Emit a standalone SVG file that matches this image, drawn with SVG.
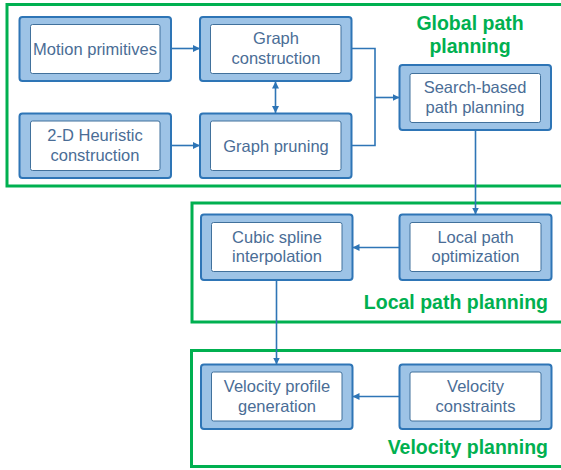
<svg xmlns="http://www.w3.org/2000/svg" width="561" height="470" viewBox="0 0 561 470">
<style>
.grp{fill:none;stroke:#00B050;stroke-width:3}
.ob{fill:#9DC3E6;stroke:#2E75B6;stroke-width:2}
.ib{fill:#fff;stroke:#41719C;stroke-width:1}
.t{font-family:"Liberation Sans",Arial,sans-serif;font-size:16.5px;fill:#4A6D96;text-anchor:middle}
.gl{font-family:"Liberation Sans",Arial,sans-serif;font-size:19.5px;font-weight:bold;fill:#00B050}
.c{fill:none;stroke:#2E75B6;stroke-width:1.6}
</style>
<defs>
<marker id="ah" viewBox="0 0 10 10" refX="10" refY="5" markerWidth="7" markerHeight="7" markerUnits="userSpaceOnUse" orient="auto-start-reverse">
<path d="M0,0 L10,5 L0,10 z" fill="#2E75B6"/>
</marker>
</defs>
<g id="global-path-planning">
<rect class="grp" x="7" y="4.5" width="560" height="181.5"/>
<text class="gl" x="470" y="30" text-anchor="middle">Global path</text>
<text class="gl" x="470" y="53" text-anchor="middle">planning</text>
</g>
<g id="local-path-planning">
<rect class="grp" x="192" y="203" width="375" height="119"/>
<text class="gl" x="548" y="308.5" text-anchor="end">Local path planning</text>
</g>
<g id="velocity-planning">
<rect class="grp" x="191.5" y="350.5" width="375" height="116"/>
<text class="gl" x="548" y="453.5" text-anchor="end">Velocity planning</text>
</g>
<g id="motion-primitives">
<rect class="ob" x="19.5" y="17" width="151.5" height="64" rx="3"/>
<rect class="ib" x="30.5" y="24.5" width="129.5" height="49" rx="2"/>
<text class="t" x="95" y="54.5">Motion primitives</text>
</g>
<g id="heuristic">
<rect class="ob" x="19.5" y="113.5" width="151.5" height="64.5" rx="3"/>
<rect class="ib" x="30.5" y="121" width="129.5" height="49.5" rx="2"/>
<text class="t" x="95" y="141">2-D Heuristic</text>
<text class="t" x="95" y="160.5">construction</text>
</g>
<g id="graph-construction">
<rect class="ob" x="200" y="17" width="151.5" height="64" rx="3"/>
<rect class="ib" x="210.5" y="24.5" width="130.5" height="49" rx="2"/>
<text class="t" x="276" y="44.3">Graph</text>
<text class="t" x="276" y="63.8">construction</text>
</g>
<g id="graph-pruning">
<rect class="ob" x="200" y="113.5" width="151.5" height="64.5" rx="3"/>
<rect class="ib" x="210.5" y="121" width="130.5" height="49.5" rx="2"/>
<text class="t" x="276" y="151.5">Graph pruning</text>
</g>
<g id="search-based">
<rect class="ob" x="399.5" y="65" width="151.5" height="65" rx="3"/>
<rect class="ib" x="410" y="73.5" width="130.5" height="49" rx="2"/>
<text class="t" x="475" y="93">Search-based</text>
<text class="t" x="475" y="112.5">path planning</text>
</g>
<g id="cubic-spline">
<rect class="ob" x="201" y="214.5" width="151.5" height="65.5" rx="3"/>
<rect class="ib" x="211.5" y="222.5" width="130.5" height="49" rx="2"/>
<text class="t" x="277" y="242.5">Cubic spline</text>
<text class="t" x="277" y="262">interpolation</text>
</g>
<g id="local-path-optimization">
<rect class="ob" x="399.5" y="214.5" width="152" height="65.5" rx="3"/>
<rect class="ib" x="410" y="222.5" width="131" height="49" rx="2"/>
<text class="t" x="475.5" y="242.5">Local path</text>
<text class="t" x="475.5" y="262">optimization</text>
</g>
<g id="velocity-profile">
<rect class="ob" x="201" y="364.5" width="151.5" height="64.5" rx="3"/>
<rect class="ib" x="211.5" y="372" width="130.5" height="49" rx="2"/>
<text class="t" x="277" y="392">Velocity profile</text>
<text class="t" x="277" y="411.5">generation</text>
</g>
<g id="velocity-constraints">
<rect class="ob" x="399.5" y="364.5" width="152" height="64.5" rx="3"/>
<rect class="ib" x="410" y="372" width="131" height="49" rx="2"/>
<text class="t" x="475.5" y="392">Velocity</text>
<text class="t" x="475.5" y="411.5">constraints</text>
</g>
<g id="connectors">
<line class="c" x1="171" y1="48.5" x2="200" y2="48.5" marker-end="url(#ah)"/>
<line class="c" x1="171" y1="145.5" x2="200" y2="145.5" marker-end="url(#ah)"/>
<line class="c" x1="275.5" y1="81.5" x2="275.5" y2="113" marker-start="url(#ah)" marker-end="url(#ah)"/>
<polyline class="c" points="351.5,48.5 375,48.5 375,145.5 351.5,145.5"/>
<line class="c" x1="375" y1="97.5" x2="399.5" y2="97.5" marker-end="url(#ah)"/>
<line class="c" x1="475.5" y1="130" x2="475.5" y2="214.5" marker-end="url(#ah)"/>
<line class="c" x1="399.5" y1="247.5" x2="352.5" y2="247.5" marker-end="url(#ah)"/>
<line class="c" x1="276.5" y1="280" x2="276.5" y2="364.5" marker-end="url(#ah)"/>
<line class="c" x1="399.5" y1="396.5" x2="352.5" y2="396.5" marker-end="url(#ah)"/>
</g>
</svg>
